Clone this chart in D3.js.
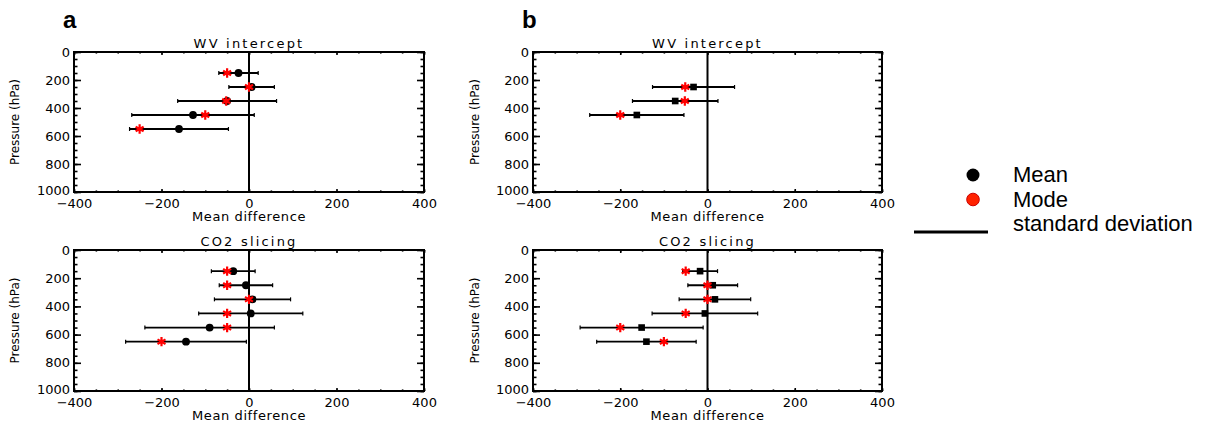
<!DOCTYPE html>
<html>
<head>
<meta charset="utf-8">
<script src="https://cdn.jsdelivr.net/npm/d3@7"></script>
<style>
  body { margin: 0; background: #fff; }
  svg { display: block; }
</style>
</head>
<body>
<div id="svg-container"></div>
<script>
//values: pressure level (hPa), mean, mode and standard deviation
var levelsWvA = [150, 250, 350, 450, 550];
var meanWvA = [-24, 6, -50, -128, -160];
var modeWvA = [-50, 0, -52, -100, -250];
var sdWvA = [45, 52, 113, 140, 113];

var levelsCo2A = [150, 250, 350, 450, 550, 650];
var meanCo2A = [-36, -7, 8, 4, -90, -144];
var modeCo2A = [-50, -50, 0, -50, -50, -200];
var sdCo2A = [50, 61, 87, 119, 148, 138];

var levelsWvB = [250, 350, 450];
var meanWvB = [-32, -74, -162];
var modeWvB = [-51, -52, -200];
var sdWvB = [94, 98, 108];

var levelsCo2B = [150, 250, 350, 450, 550, 650];
var meanCo2B = [-17, 12, 17, -6, -151, -140];
var modeCo2B = [-50, 0, 0, -50, -200, -100];
var sdCo2B = [40, 57, 82, 121, 141, 114];

var xTicks = [-400, -200, 0, 200, 400];
var yTicks = [0, 200, 400, 600, 800, 1000];
var panelLetters = ['a', 'b'];
var legendLabels = ['Mean', 'Mode', 'standard deviation'];

var idlFont = "'DejaVu Sans', sans-serif";
var arialFont = "'Liberation Sans', Arial, sans-serif";

//append svg element
var svg = d3.select('#svg-container').append('svg')
  .attr('width', 1218)
  .attr('height', 423)
  .style('background', '#fff');

//panel layout
var panels = [
  {title: 'WV intercept', levels: levelsWvA, mean: meanWvA, mode: modeWvA, sd: sdWvA,
   left: 74, right: 424, top: 52, bottom: 192, ylab: 15, sym: d3.symbolCircle, symSize: 48},
  {title: 'CO2 slicing', levels: levelsCo2A, mean: meanCo2A, mode: modeCo2A, sd: sdCo2A,
   left: 74, right: 424, top: 250, bottom: 391, ylab: 15, sym: d3.symbolCircle, symSize: 48},
  {title: 'WV intercept', levels: levelsWvB, mean: meanWvB, mode: modeWvB, sd: sdWvB,
   left: 533, right: 882, top: 52, bottom: 192, ylab: 475, sym: d3.symbolSquare, symSize: 44},
  {title: 'CO2 slicing', levels: levelsCo2B, mean: meanCo2B, mode: modeCo2B, sd: sdCo2B,
   left: 533, right: 882, top: 250, bottom: 391, ylab: 475, sym: d3.symbolSquare, symSize: 44}
];

//style an axis group: no domain path, thick tick lines, idl-ish labels
function styleAxis(g) {
  g.select('.domain').remove();
  g.selectAll('line').attr('stroke', '#000').attr('stroke-width', 1.6);
  g.selectAll('text')
    .attr('fill', '#000')
    .style('font-family', idlFont)
    .style('font-size', '13px');
}

function drawPanel(p) {
  var x = d3.scaleLinear().domain([-400, 400]).range([p.left, p.right]);
  var y = d3.scaleLinear().domain([0, 1000]).range([p.top, p.bottom]);
  var g = svg.append('g');

  //minor ticks every 50
  g.append('g').attr('transform', 'translate(0,' + p.bottom + ')')
    .call(d3.axisBottom(x).tickValues(d3.range(-400, 401, 50)).tickSize(-1.6).tickFormat(''))
    .call(styleAxis);
  g.append('g').attr('transform', 'translate(0,' + p.top + ')')
    .call(d3.axisTop(x).tickValues(d3.range(-400, 401, 50)).tickSize(-1.6).tickFormat(''))
    .call(styleAxis);
  g.append('g').attr('transform', 'translate(' + p.left + ',0)')
    .call(d3.axisLeft(y).tickValues(d3.range(0, 1001, 50)).tickSize(-3.5).tickFormat(''))
    .call(styleAxis);
  g.append('g').attr('transform', 'translate(' + p.right + ',0)')
    .call(d3.axisRight(y).tickValues(d3.range(0, 1001, 50)).tickSize(-3.5).tickFormat(''))
    .call(styleAxis);

  //major ticks with labels
  g.append('g').attr('transform', 'translate(0,' + p.bottom + ')')
    .call(d3.axisBottom(x).tickValues(xTicks).tickSize(-3).tickPadding(7))
    .call(styleAxis);
  g.append('g').attr('transform', 'translate(0,' + p.top + ')')
    .call(d3.axisTop(x).tickValues(xTicks).tickSize(-3).tickFormat(''))
    .call(styleAxis);
  g.append('g').attr('transform', 'translate(' + p.left + ',0)')
    .call(d3.axisLeft(y).tickValues(yTicks).tickSize(-7).tickPadding(4).tickFormat(d3.format('d')))
    .call(styleAxis);
  g.append('g').attr('transform', 'translate(' + p.right + ',0)')
    .call(d3.axisRight(y).tickValues(yTicks).tickSize(-7).tickFormat(''))
    .call(styleAxis);

  //lift the 1000 label a little so it clears the x labels
  g.selectAll('text').filter(function() { return d3.select(this).text() === '1000'; })
    .attr('dy', '0.2em');

  //frame
  g.append('rect')
    .attr('x', p.left)
    .attr('y', p.top)
    .attr('width', p.right - p.left)
    .attr('height', p.bottom - p.top)
    .style('fill', 'none')
    .style('stroke', '#000')
    .style('stroke-width', 2);

  //zero line
  g.append('line')
    .attr('x1', x(0)).attr('x2', x(0))
    .attr('y1', p.top).attr('y2', p.bottom)
    .style('stroke', '#000')
    .style('stroke-width', 2);

  //title and axis labels
  g.append('text')
    .attr('x', (p.left + p.right) / 2)
    .attr('y', p.top - 4)
    .attr('text-anchor', 'middle')
    .style('font-family', idlFont)
    .style('font-size', '13px')
    .style('letter-spacing', '2.2px')
    .text(p.title);
  g.append('text')
    .attr('x', (p.left + p.right) / 2)
    .attr('y', p.bottom + 29)
    .attr('text-anchor', 'middle')
    .style('font-family', idlFont)
    .style('font-size', '13px')
    .style('letter-spacing', '0.6px')
    .text('Mean difference');
  g.append('text')
    .attr('transform', 'translate(' + p.ylab + ',' + ((p.top + p.bottom) / 2) + ') rotate(-90)')
    .attr('text-anchor', 'middle')
    .attr('dy', '0.35em')
    .style('font-family', idlFont)
    .style('font-size', '12px')
    .text('Pressure (hPa)');

  var rows = p.levels.map(function(lev, i) {
    return {level: lev, mean: p.mean[i], mode: p.mode[i], sd: p.sd[i]};
  });

  //standard deviation bars with small caps
  var bars = g.selectAll('.sdbar').data(rows).enter().append('g');
  bars.append('line')
    .attr('x1', function(d) { return x(d.mean - d.sd); })
    .attr('x2', function(d) { return x(d.mean + d.sd); })
    .attr('y1', function(d) { return y(d.level); })
    .attr('y2', function(d) { return y(d.level); })
    .style('stroke', '#000')
    .style('stroke-width', 1.8);
  [-1, 1].forEach(function(s) {
    bars.append('line')
      .attr('x1', function(d) { return x(d.mean + s * d.sd); })
      .attr('x2', function(d) { return x(d.mean + s * d.sd); })
      .attr('y1', function(d) { return y(d.level) - 2; })
      .attr('y2', function(d) { return y(d.level) + 2; })
      .style('stroke', '#000')
      .style('stroke-width', 1.2);
  });

  //mean markers
  g.selectAll('.mean').data(rows).enter().append('path')
    .attr('d', d3.symbol().type(p.sym).size(p.symSize))
    .attr('transform', function(d) { return 'translate(' + x(d.mean) + ',' + y(d.level) + ')'; })
    .style('fill', '#000');

  //mode markers
  g.selectAll('.mode').data(rows).enter().append('path')
    .attr('d', d3.symbol().type(d3.symbolAsterisk).size(60))
    .attr('transform', function(d) { return 'translate(' + x(d.mode) + ',' + y(d.level) + ')'; })
    .style('fill', 'none')
    .style('stroke', '#ff0000')
    .style('stroke-width', 2.2);
}

panels.forEach(drawPanel);

//panel letters
svg.selectAll('.letter').data(panelLetters).enter().append('text')
  .attr('x', function(d, i) { return i === 0 ? 63 : 522; })
  .attr('y', 28)
  .style('font-family', arialFont)
  .style('font-weight', 'bold')
  .style('font-size', '24px')
  .text(function(d) { return d; });

//legend
var legend = svg.append('g');
legend.append('circle')
  .attr('cx', 973).attr('cy', 175).attr('r', 6.5)
  .style('fill', '#000');
legend.append('circle')
  .attr('cx', 973).attr('cy', 199.5).attr('r', 6.3)
  .style('fill', '#ff2200')
  .style('stroke', '#cc0000')
  .style('stroke-width', 1);
legend.append('line')
  .attr('x1', 914).attr('x2', 988)
  .attr('y1', 232).attr('y2', 232)
  .style('stroke', '#000')
  .style('stroke-width', 3);
legend.selectAll('.label').data(legendLabels).enter().append('text')
  .attr('x', 1013)
  .attr('y', function(d, i) { return 182 + i * 24.5; })
  .style('font-family', arialFont)
  .style('font-size', '22px')
  .text(function(d) { return d; });
</script>
</body>
</html>
